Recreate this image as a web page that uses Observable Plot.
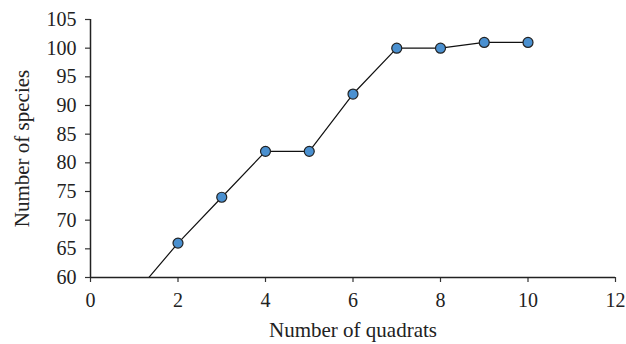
<!DOCTYPE html>
<html>
<head>
<meta charset="utf-8">
<script src="https://cdn.jsdelivr.net/npm/d3@7"></script>
<script src="https://cdn.jsdelivr.net/npm/@observablehq/plot@0.6"></script>
<style>
  html, body { margin: 0; padding: 0; background: #fff; }
  #chart svg { display: block; }
</style>
</head>
<body>
<div id="chart"></div>
<script>
// Data
const quadrats = [1, 2, 3, 4, 5, 6, 7, 8, 9, 10];
const species  = [57, 66, 74, 82, 82, 92, 100, 100, 101, 101];
const xTicks = [0, 2, 4, 6, 8, 10, 12];
const yTicks = [60, 65, 70, 75, 80, 85, 90, 95, 100, 105];

const data = quadrats.map((q, i) => ({q, s: species[i]}));
const font = "'Liberation Serif', 'DejaVu Serif', serif";

const chart = Plot.plot({
  width: 626,
  height: 344,
  marginLeft: 90,
  marginRight: 11,
  marginTop: 19,
  marginBottom: 67,
  style: {fontFamily: font, fontSize: "20px", color: "#222", background: "#fff"},
  x: {domain: [0, 12], ticks: xTicks, label: null},
  y: {domain: [60, 105], ticks: yTicks, label: null},
  marks: [
    Plot.axisX(xTicks, {tickSize: 5, tickPadding: 10, stroke: "#333", strokeWidth: 1.2, fontSize: 20, fill: "#222", label: null}),
    Plot.axisY(yTicks, {tickSize: 5, tickPadding: 9, stroke: "#333", strokeWidth: 1.2, fontSize: 20, fill: "#222", label: null}),
    Plot.ruleY([60], {stroke: "#222", strokeWidth: 1.5}),
    Plot.ruleX([0], {stroke: "#222", strokeWidth: 1.5}),
    Plot.line(data, {x: "q", y: "s", stroke: "#111", strokeWidth: 1.2, clip: true}),
    Plot.dot(data, {x: "q", y: "s", r: 5, fill: "#4a90d0", stroke: "#222", strokeWidth: 1.2, clip: true}),
    Plot.text(["Number of quadrats"], {frameAnchor: "bottom", dy: 59, fontSize: 21, fill: "#222"}),
    Plot.text(["Number of species"], {frameAnchor: "left", textAnchor: "middle", dx: -68, rotate: -90, fontSize: 21, fill: "#222"})
  ]
});
document.getElementById("chart").appendChild(chart);
</script>
</body>
</html>
